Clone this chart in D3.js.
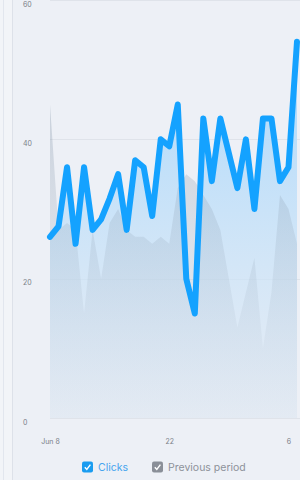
<!DOCTYPE html>
<html>
<head>
<meta charset="utf-8">
<script src="https://cdn.jsdelivr.net/npm/d3@7"></script>
<style>
  html, body { margin: 0; padding: 0; background: #edf0f6; }
  body { width: 300px; height: 480px; overflow: hidden; font-family: Inter, "Open Sans", sans-serif; }
  svg { display: block; }
</style>
</head>
<body>
<div id="chart"></div>
<script>
// days Jun 8 .. Jul 7
const days = ["2024-06-08","2024-06-09","2024-06-10","2024-06-11","2024-06-12","2024-06-13","2024-06-14",
  "2024-06-15","2024-06-16","2024-06-17","2024-06-18","2024-06-19","2024-06-20","2024-06-21","2024-06-22",
  "2024-06-23","2024-06-24","2024-06-25","2024-06-26","2024-06-27","2024-06-28","2024-06-29","2024-06-30",
  "2024-07-01","2024-07-02","2024-07-03","2024-07-04","2024-07-05","2024-07-06","2024-07-07"];
const clicks = [26, 27.5, 36, 25, 36, 27, 28.5, 31.5, 35, 27, 37, 36, 29, 40, 39, 45, 20, 15, 43, 34, 43, 38, 33, 40, 30, 43, 43, 34, 36, 54];
const previous = [45, 27, 28, 27, 15, 27, 20, 28, 30, 27, 26, 26, 25, 26, 25, 33, 35, 34, 32, 30, 27, 20, 13, 18, 23, 10, 18, 32, 30, 25];
const yTicks = [0, 20, 40, 60];
const xTicks = ["2024-06-08", "2024-06-22", "2024-07-06"];
const xTickLabels = ["Jun 8", "22", "6"];

const width = 300, height = 480;
const parse = d3.timeParse("%Y-%m-%d");
const data = days.map((d, i) => ({ date: parse(d), clicks: clicks[i], prev: previous[i] }));

const x = d3.scaleTime()
  .domain(d3.extent(data, d => d.date))
  .range([50, 297]);
const y = d3.scaleLinear()
  .domain([0, 60])
  .range([418, 0]);

const svg = d3.select("#chart").append("svg")
  .attr("width", width)
  .attr("height", height);

const defs = svg.append("defs");
const gClicks = defs.append("linearGradient").attr("id", "gClicks")
  .attr("gradientUnits", "userSpaceOnUse")
  .attr("x1", 0).attr("x2", 0).attr("y1", y(45)).attr("y2", y(0));
gClicks.append("stop").attr("offset", 0).attr("stop-color", "#b2dbfb").attr("stop-opacity", 0.95);
gClicks.append("stop").attr("offset", 1).attr("stop-color", "#dfe9f4").attr("stop-opacity", 0.5);

const gPrev = defs.append("linearGradient").attr("id", "gPrev")
  .attr("gradientUnits", "userSpaceOnUse")
  .attr("x1", 0).attr("x2", 0).attr("y1", y(45)).attr("y2", y(0));
gPrev.append("stop").attr("offset", 0).attr("stop-color", "#7d8fa3").attr("stop-opacity", 0.32);
gPrev.append("stop").attr("offset", 1).attr("stop-color", "#a5b5c6").attr("stop-opacity", 0.04);

// left panel strip
svg.append("rect").attr("x", 0).attr("y", 0).attr("width", 13).attr("height", height).attr("fill", "#f2f4f8");
svg.append("line").attr("x1", 3.5).attr("x2", 3.5).attr("y1", 0).attr("y2", height).attr("stroke", "#e2e6ee");
svg.append("line").attr("x1", 12.5).attr("x2", 12.5).attr("y1", 0).attr("y2", height).attr("stroke", "#dde1e9");

// grid
svg.append("g")
  .selectAll("line")
  .data(yTicks)
  .join("line")
  .attr("x1", 50).attr("x2", width)
  .attr("y1", d => Math.round(y(d)) + 0.5)
  .attr("y2", d => Math.round(y(d)) + 0.5)
  .attr("stroke", "#dfe3ea");

// areas
const areaClicks = d3.area().x(d => x(d.date)).y0(y(0)).y1(d => y(d.clicks));
const areaPrev = d3.area().x(d => x(d.date)).y0(y(0)).y1(d => y(d.prev));

svg.append("path").datum(data).attr("d", areaClicks).attr("fill", "url(#gClicks)");
svg.append("path").datum(data).attr("d", areaPrev).attr("fill", "url(#gPrev)");

// clicks line
svg.append("path").datum(data)
  .attr("d", d3.line().x(d => x(d.date)).y(d => y(d.clicks)))
  .attr("fill", "none")
  .attr("stroke", "#14a2ff")
  .attr("stroke-width", 6)
  .attr("stroke-linejoin", "round")
  .attr("stroke-linecap", "round");

// y axis labels
const yAxis = d3.axisRight(y).tickValues(yTicks).tickSize(0).tickPadding(0);
svg.append("g")
  .attr("transform", "translate(23,4)")
  .call(yAxis)
  .call(g => g.select(".domain").remove())
  .call(g => g.selectAll("text")
    .attr("fill", "#7a7f88")
    .style("font-size", "7px")
    .style("font-family", "Inter, sans-serif"));

// x axis labels
const xAxis = d3.axisBottom(x)
  .tickValues(xTicks.map(parse))
  .tickFormat((d, i) => xTickLabels[i])
  .tickSize(0)
  .tickPadding(0);
svg.append("g")
  .attr("transform", "translate(0,439)")
  .call(xAxis)
  .call(g => g.select(".domain").remove())
  .call(g => g.selectAll("text")
    .attr("fill", "#7a7f88")
    .style("font-size", "7px")
    .style("font-family", "Inter, sans-serif"));

// legend
const legend = svg.append("g").attr("transform", "translate(0,467)");
const items = [
  { label: "Clicks", box: "#1a9cf0", text: "#45a4ee", x: 82 },
  { label: "Previous period", box: "#8a8f98", text: "#8e929a", x: 152 }
];
const li = legend.selectAll("g").data(items).join("g")
  .attr("transform", d => `translate(${d.x},0)`);
li.append("rect")
  .attr("x", 0).attr("y", -5.5).attr("width", 11).attr("height", 11).attr("rx", 2)
  .attr("fill", d => d.box);
li.append("path")
  .attr("d", "M2.8,0.2 L4.8,2.4 L8.4,-2.4")
  .attr("fill", "none")
  .attr("stroke", "#fff")
  .attr("stroke-width", 1.4);
li.append("text")
  .attr("x", 16).attr("y", 0).attr("dy", "0.35em")
  .attr("fill", d => d.text)
  .style("font-size", "10.5px")
  .style("font-family", "Inter, sans-serif")
  .text(d => d.label);
</script>
</body>
</html>
